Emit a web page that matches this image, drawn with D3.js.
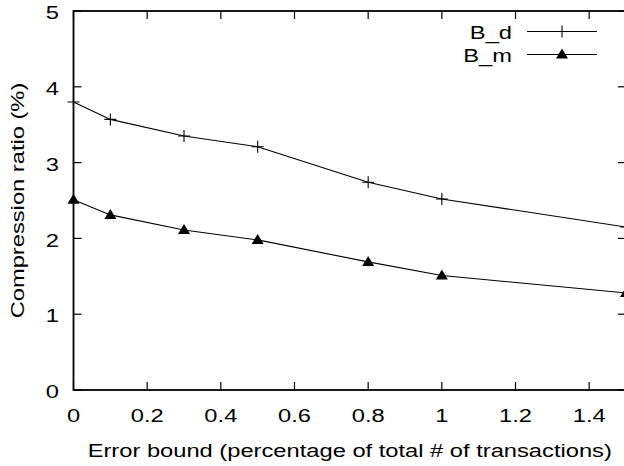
<!DOCTYPE html>
<html><head><meta charset="utf-8">
<script src="https://cdn.jsdelivr.net/npm/d3@7"></script>
<style>
body{margin:0;background:#fff;}
text{font-family:"Liberation Sans",Arial,Helvetica,sans-serif;fill:#000;}
</style></head>
<body>
<svg id="chart" width="624" height="466"></svg>
<script>
const xValues = [0, 0.1, 0.3, 0.5, 0.8, 1.0, 1.5];
const seriesNames = ["B_d", "B_m"];
const bdValues = [3.80, 3.57, 3.35, 3.21, 2.74, 2.52, 2.15];
const bmValues = [2.51, 2.31, 2.11, 1.98, 1.69, 1.51, 1.28];
const xTicks = [0, 0.2, 0.4, 0.6, 0.8, 1, 1.2, 1.4];
const yTicks = [0, 1, 2, 3, 4, 5];
const xLabel = "Error bound (percentage of total # of transactions)";
const yLabel = "Compression ratio (%)";

(function(){
const svg = d3.select("#chart");
const pL = 73.5, pR = 626, pT = 11, pB = 390;
const x = d3.scaleLinear().domain([0, 1.5]).range([pL, pR]);
const y = d3.scaleLinear().domain([0, 5]).range([pB, pT]);
const fs = 23.7, sq = 0.8;

function txt(parent, tx, ty, s, anchor, rot) {
  return parent.append("text")
    .attr("transform", `translate(${tx},${ty})` + (rot ? ` rotate(${rot})` : "") + ` scale(1,${sq})`)
    .attr("text-anchor", anchor).attr("font-size", fs).text(s);
}

// frame
svg.append("rect").attr("x", pL).attr("y", pT).attr("width", pR-pL).attr("height", pB-pT)
  .attr("fill","none").attr("stroke","#000").attr("stroke-width",1.8);

// ticks
const tl = 8;
const g = svg.append("g").attr("stroke","#000").attr("stroke-width",1.2);
xTicks.forEach(t => {
  g.append("line").attr("x1",x(t)).attr("x2",x(t)).attr("y1",pB).attr("y2",pB-tl);
  g.append("line").attr("x1",x(t)).attr("x2",x(t)).attr("y1",pT).attr("y2",pT+tl);
});
yTicks.forEach(t => {
  g.append("line").attr("x1",pL).attr("x2",pL+tl).attr("y1",y(t)).attr("y2",y(t));
  g.append("line").attr("x1",pR).attr("x2",pR-tl).attr("y1",y(t)).attr("y2",y(t));
});
// tick labels
const xl = svg.append("g");
xTicks.forEach(t => txt(xl, x(t), 422, d3.format("~g")(t), "middle"));
const yl = svg.append("g");
yTicks.forEach(t => txt(yl, 59, y(t) + 8.2, String(t), "end"));
// axis labels
txt(svg, (pL+pR)/2, 457, xLabel, "middle");
txt(svg, 23.5, (pT+pB)/2, yLabel, "middle", -90);

const line = d3.line().x((d,i)=>x(xValues[i])).y(d=>y(d));
const series = [bdValues, bmValues];
const plot = svg.append("g");
series.forEach(vals => {
  plot.append("path").attr("d", line(vals)).attr("fill","none").attr("stroke","#000").attr("stroke-width",1.1);
});
const plusPath = s => `M${-s},0H${s}M0,${-s}V${s}`;
const triPath = (w,h) => `M0,${-h*0.6}L${w},${h*0.4}L${-w},${h*0.4}Z`;
plot.selectAll(".pd").data(bdValues).join("path")
  .attr("transform",(d,i)=>`translate(${x(xValues[i])},${y(d)})`)
  .attr("d", plusPath(6)).attr("stroke","#000").attr("stroke-width",1.1).attr("fill","none");
plot.selectAll(".pm").data(bmValues).join("path")
  .attr("transform",(d,i)=>`translate(${x(xValues[i])},${y(d)})`)
  .attr("d", triPath(6,10)).attr("fill","#000");

// legend
const leg = svg.append("g");
const ly = [31.5, 54.5];
seriesNames.forEach((n,i) => {
  txt(leg, 512, ly[i] + 7, n, "end");
  leg.append("line").attr("x1",527).attr("x2",597).attr("y1",ly[i]).attr("y2",ly[i]).attr("stroke","#000").attr("stroke-width",1);
});
leg.append("path").attr("transform",`translate(562,${ly[0]})`).attr("d",plusPath(6)).attr("stroke","#000").attr("stroke-width",1.1);
leg.append("path").attr("transform",`translate(562,${ly[1]})`).attr("d",triPath(6,10)).attr("fill","#000");
})();
</script>
</body></html>
